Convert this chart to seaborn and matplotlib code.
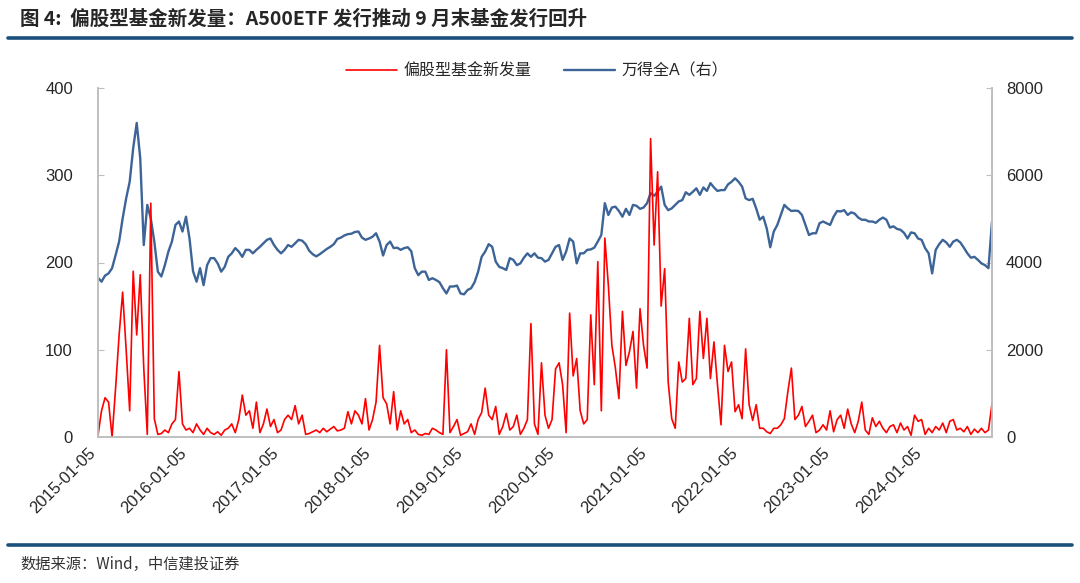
import matplotlib
matplotlib.use('Agg')
import matplotlib.pyplot as plt
from matplotlib.lines import Line2D
import pandas as pd
import seaborn as sns

sns.set_style('white')
plt.rcParams['font.family'] = ['Liberation Sans', 'Noto Sans CJK SC', 'DejaVu Sans']
plt.rcParams['axes.unicode_minus'] = False

# bi-weekly samples, 2015-01-05 .. 2024-09-30
dates = pd.date_range('2015-01-05', periods=255, freq='14D')

fund_issuance = [
    2, 30, 45, 40, 0, 56, 117, 166, 100, 30, 190, 117, 186, 79, 3, 268, 21, 3, 4, 8, 5, 15, 20, 75, 15, 8,
    10, 5, 15, 8, 3, 10, 5, 3, 6, 2, 8, 10, 15, 5, 20, 48, 25, 30, 10, 40, 5, 15, 32, 12, 20, 5,
    8, 20, 25, 20, 36, 15, 25, 3, 4, 6, 8, 5, 10, 6, 9, 12, 7, 8, 10, 29, 15, 30, 25, 15, 44, 8,
    20, 40, 105, 45, 38, 15, 52, 8, 30, 15, 20, 5, 8, 3, 2, 4, 3, 10, 8, 5, 3, 100, 5, 12, 20, 2,
    4, 6, 15, 3, 20, 28, 56, 25, 20, 35, 3, 12, 27, 8, 12, 25, 3, 10, 20, 130, 15, 3, 85, 25, 10, 20,
    78, 85, 60, 5, 142, 70, 90, 30, 15, 20, 140, 60, 201, 30, 228, 174, 105, 79, 44, 144, 82, 98, 121, 56, 147, 105,
    79, 342, 220, 304, 150, 193, 63, 21, 10, 86, 63, 67, 136, 60, 67, 144, 90, 136, 67, 109, 60, 14, 105, 75, 86, 29,
    37, 21, 101, 37, 19, 37, 10, 10, 6, 4, 10, 10, 14, 21, 52, 79, 20, 25, 35, 12, 18, 25, 5, 8, 14, 8,
    30, 6, 20, 25, 10, 32, 15, 5, 18, 40, 8, 3, 22, 12, 18, 10, 5, 12, 14, 5, 16, 8, 12, 2, 25, 18,
    20, 3, 10, 5, 12, 8, 16, 5, 18, 20, 8, 10, 6, 12, 3, 9, 5, 10, 5, 8, 38,
]

wind_all_a = [
    3650, 3560, 3700, 3750, 3870, 4170, 4480, 5010, 5470, 5850, 6620, 7200, 6390, 4400, 5320, 5010, 4480,
    3790, 3680, 3940, 4250, 4480, 4860, 4940, 4710, 5050,
    4550, 3800, 3560, 3870, 3480, 3940, 4100, 4100, 3980, 3790, 3900, 4130, 4210, 4330, 4250, 4130, 4290,
    4290, 4210, 4290, 4360, 4440, 4520, 4550, 4400, 4290,
    4210, 4290, 4400, 4360, 4440, 4520, 4500, 4420, 4270, 4190, 4140, 4190, 4250, 4310, 4360, 4420, 4540,
    4570, 4620, 4650, 4660, 4700, 4710, 4570, 4520, 4550,
    4590, 4670, 4480, 4160, 4400, 4480, 4330, 4340, 4290, 4330, 4350, 4260, 3870, 3710, 3790, 3790, 3600,
    3640, 3600, 3550, 3410, 3290, 3450, 3450, 3470, 3290,
    3270, 3370, 3410, 3550, 3790, 4130, 4250, 4420, 4360, 4020, 3900, 3870, 3830, 4100, 4060, 3940, 3980,
    4110, 4210, 4130, 4210, 4110, 4100, 4020, 4060, 4210,
    4360, 4400, 4060, 4250, 4550, 4480, 3980, 4210, 4210, 4290, 4300, 4340, 4480, 4630, 5360, 5090, 5260,
    5280, 5180, 5050, 5230, 5090, 5320, 5300, 5230, 5260,
    5360, 5590, 5530, 5620, 5740, 5320, 5200, 5240, 5320, 5400, 5430, 5610, 5550, 5620, 5700, 5550, 5720,
    5640, 5820, 5720, 5640, 5660, 5660, 5790, 5850, 5930,
    5850, 5740, 5470, 5430, 5460, 5240, 4980, 5050, 4780, 4350, 4710, 4860, 5090, 5320, 5240, 5180, 5190,
    5180, 5090, 4860, 4630, 4670, 4670, 4900, 4940, 4900,
    4860, 5050, 5180, 5170, 5200, 5090, 5150, 5120, 5030, 4980, 4980, 4940, 4940, 4910, 4980, 5030, 4980,
    4800, 4830, 4770, 4750, 4680, 4550, 4690, 4670, 4550,
    4520, 4330, 4210, 3750, 4290, 4420, 4520, 4460, 4360, 4480, 4520, 4460, 4340, 4210, 4110, 4130, 4060,
    3980, 3940, 3870, 4940,
]

tick_labels = ['2015-01-05', '2016-01-05', '2017-01-05', '2018-01-05', '2019-01-05',
               '2020-01-05', '2021-01-05', '2022-01-05', '2023-01-05', '2024-01-05']

red = '#ff0000'
blue = '#3c6496'
navy = '#1b4f7c'
grey = '#bfbfbf'

df = pd.DataFrame({'date': dates, 'issuance': fund_issuance, 'index': wind_all_a})

fig = plt.figure(figsize=(10.8, 5.83), dpi=100)
W, H = 1080, 583
ax = fig.add_axes([98 / W, 1 - 437 / H, (992 - 98) / W, (437 - 88) / H])
ax2 = ax.twinx()

sns.lineplot(data=df, x='date', y='index', ax=ax2, color=blue, lw=1.7, label='万得全A（右）')
sns.lineplot(data=df, x='date', y='issuance', ax=ax, color=red, lw=1.2, label='偏股型基金新发量')

# red series drawn above the blue one
ax.set_zorder(ax2.get_zorder() + 1)
ax.patch.set_visible(False)

h1, l1 = ax.get_legend_handles_labels()
h2, l2 = ax2.get_legend_handles_labels()
for a in (ax, ax2):
    if a.get_legend():
        a.get_legend().remove()
fig.legend(h1 + h2, l1 + l2, loc='center', bbox_to_anchor=(537 / W, 1 - 71 / H), ncol=2,
           frameon=False, fontsize=11.5, handlelength=3.2, columnspacing=2.0, handletextpad=0.4)

ax.set_xlim(dates[0], dates[-1])
ax.set_ylim(0, 400)
ax2.set_ylim(0, 8000)
ax.set_yticks([0, 100, 200, 300, 400])
ax2.set_yticks([0, 2000, 4000, 6000, 8000])
ax.set_xticks(pd.to_datetime(tick_labels))
ax.set_xticklabels(tick_labels, rotation=45, ha='right')
ax.set_xlabel('')
ax.set_ylabel('')
ax2.set_ylabel('')

for a in (ax, ax2):
    a.spines['top'].set_visible(False)
    for s in ('left', 'right', 'bottom'):
        a.spines[s].set_color(grey)
        a.spines[s].set_linewidth(1.2)
    a.grid(False)

ax.tick_params(axis='x', direction='in', length=4, color=grey, labelsize=12, pad=6)
ax.tick_params(axis='y', direction='in', length=4, color=grey, labelsize=12, pad=18)
ax2.tick_params(axis='y', direction='in', length=4, color=grey, labelsize=12, pad=10)

# title, rules and source note
fig.text(20 / W, 1 - 19 / H, '图 4:  偏股型基金新发量：A500ETF 发行推动 9 月末基金发行回升',
         fontsize=14, fontweight='bold', va='center', ha='left',
         family=['Noto Sans CJK SC', 'DejaVu Sans'])
fig.add_artist(Line2D([8 / W, 1072 / W], [1 - 38 / H, 1 - 38 / H], color=navy, lw=2.6))
fig.add_artist(Line2D([8 / W, 1072 / W], [1 - 545 / H, 1 - 545 / H], color=navy, lw=2.6))
fig.text(20 / W, 1 - 564 / H, '数据来源：Wind，中信建投证券', fontsize=11, style='italic',
         color='#333333', va='center', ha='left', family=['Noto Sans CJK SC', 'DejaVu Sans'])

fig.savefig('out.png', dpi=100)
